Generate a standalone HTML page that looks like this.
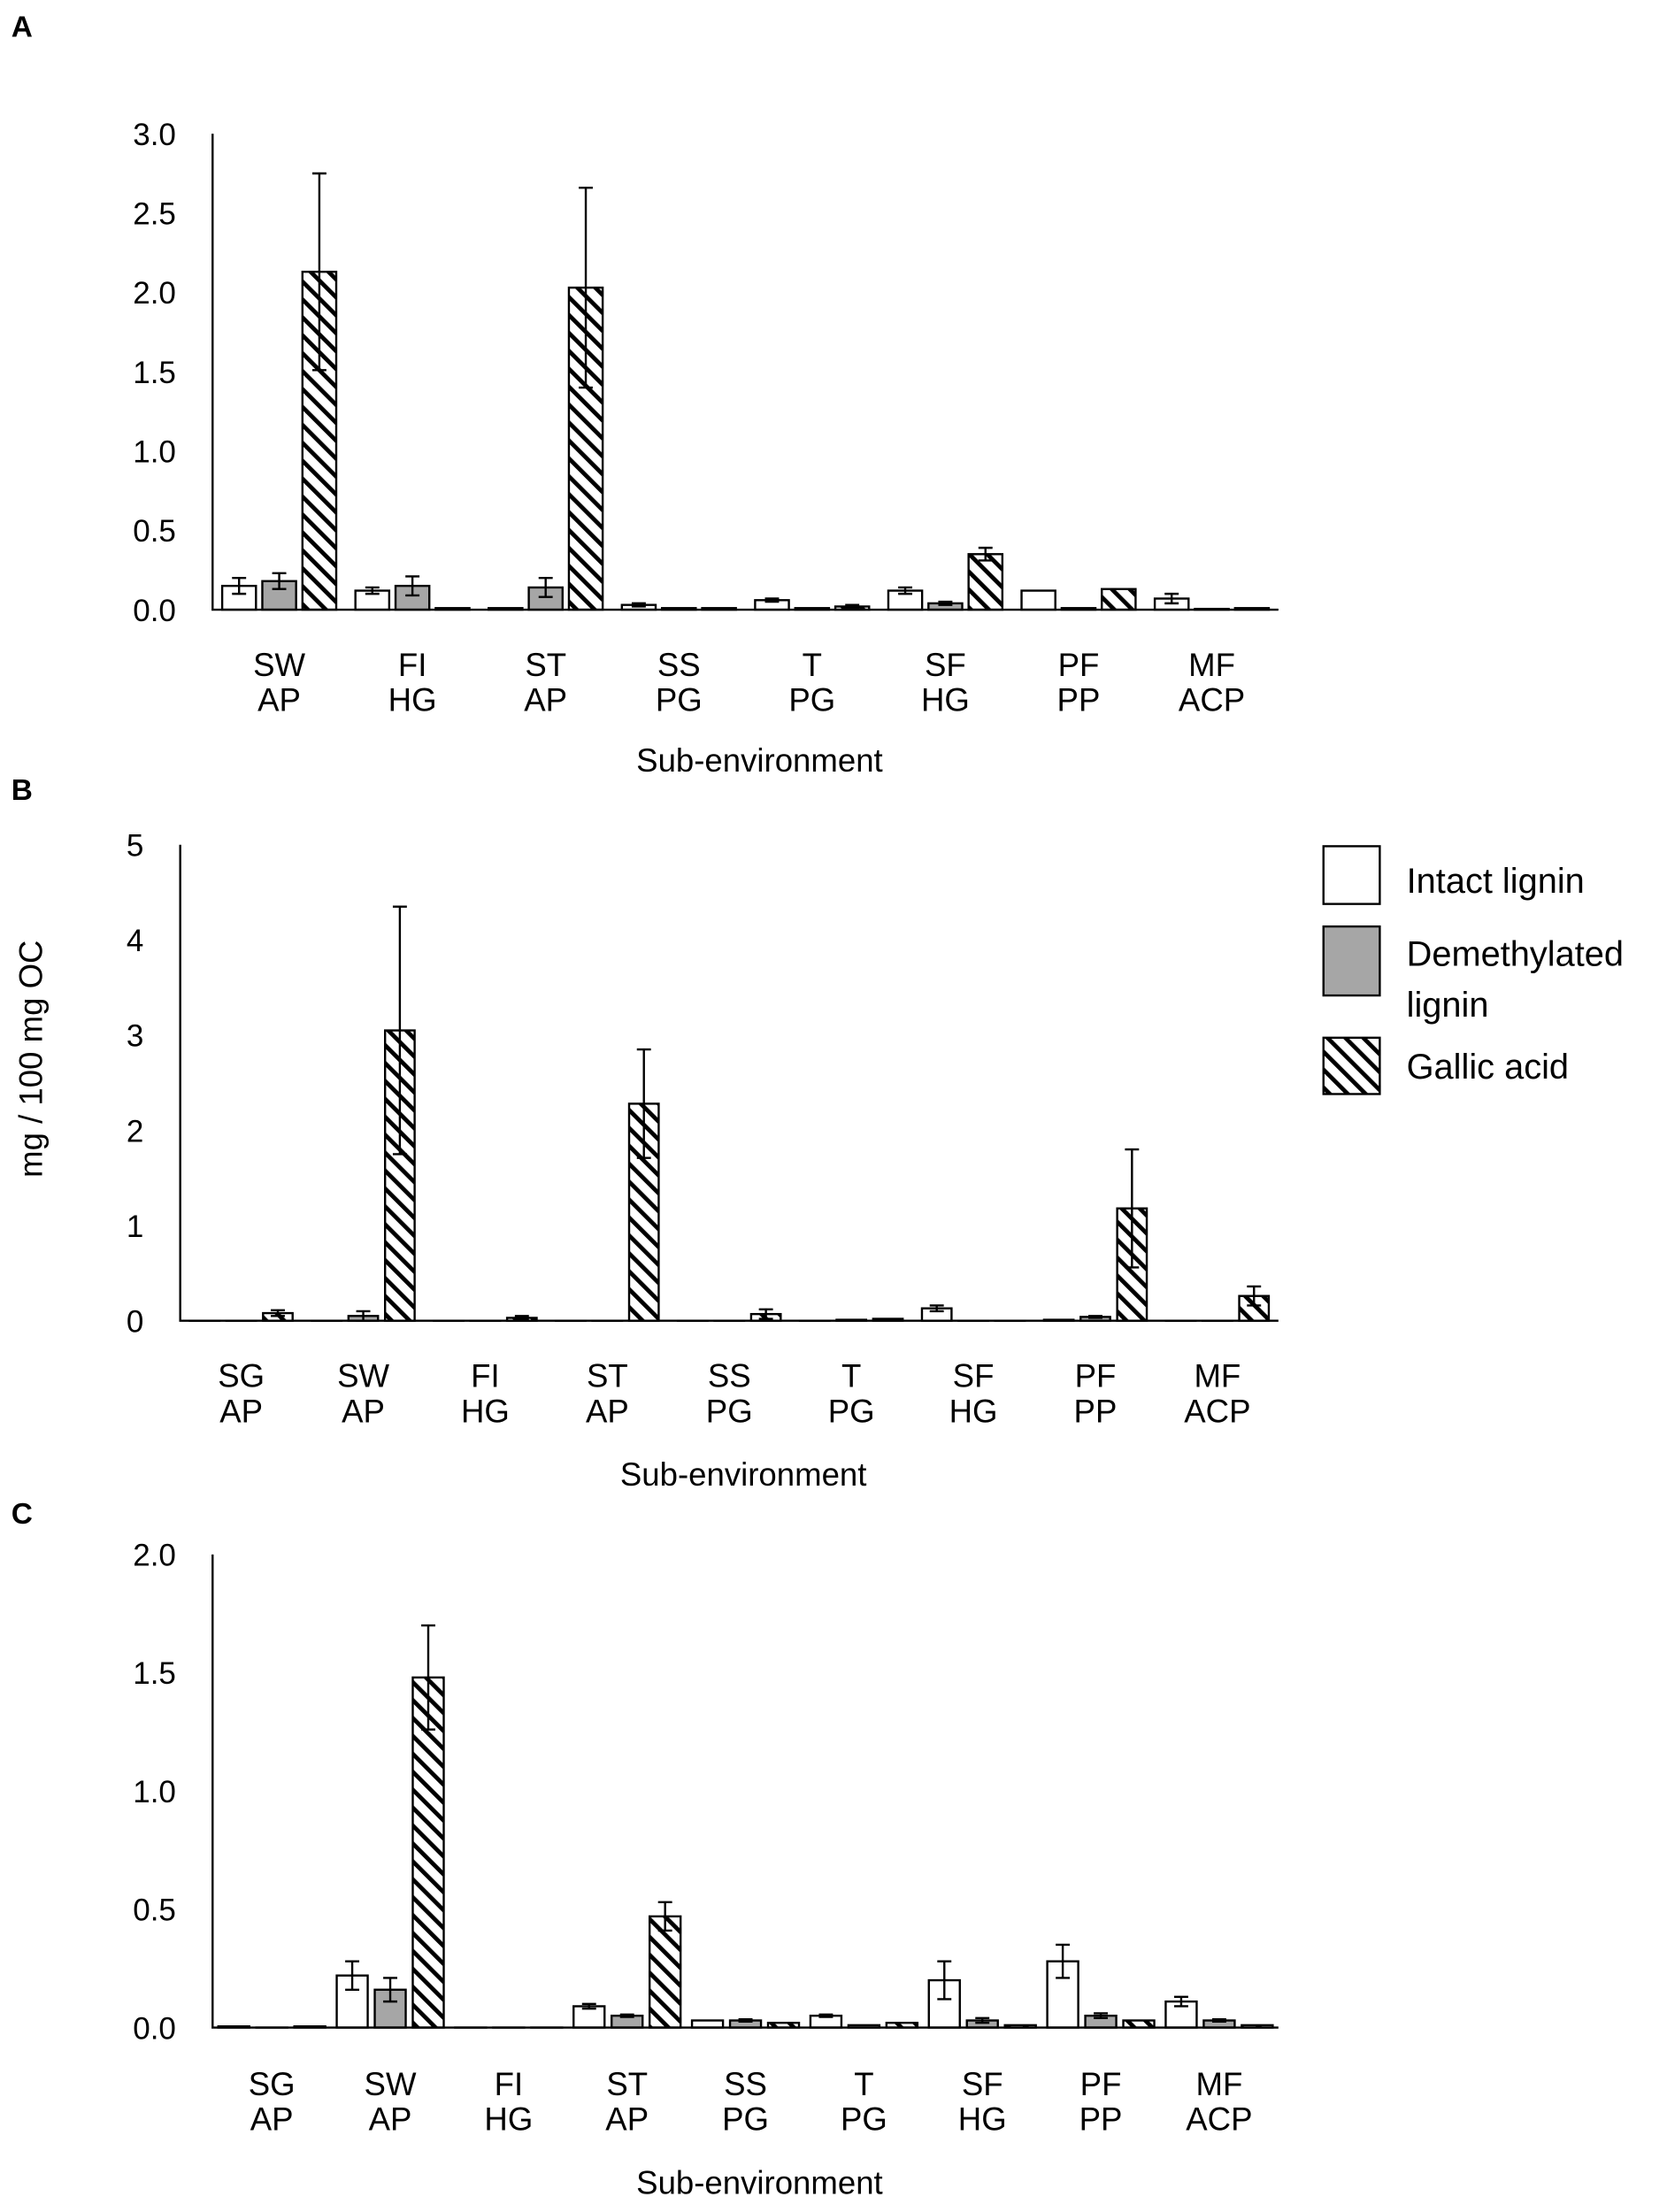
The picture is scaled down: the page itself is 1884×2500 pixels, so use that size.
<!DOCTYPE html>
<html><head><meta charset="utf-8"><style>
html,body{margin:0;padding:0;background:#fff;}
svg{display:block;font-family:"Liberation Sans",sans-serif;}
</style></head><body>
<svg id="fig" width="1884" height="2500" viewBox="0 0 1184 1571" preserveAspectRatio="none" xmlns="http://www.w3.org/2000/svg">
<defs>
<pattern id="hatch" patternUnits="userSpaceOnUse" width="9" height="9" patternTransform="rotate(-45)">
<rect width="9" height="9" fill="#fff"/><line x1="0" y1="0" x2="0" y2="9" stroke="#000" stroke-width="6"/>
</pattern>
</defs>
<text x="8" y="26" font-size="21" font-weight="bold">A</text>
<text x="8" y="568" font-size="21" font-weight="bold">B</text>
<text x="8" y="1082" font-size="21" font-weight="bold">C</text>
<text transform="translate(30,752) rotate(-90)" text-anchor="middle" font-size="23">mg / 100 mg OC</text>
<g>
<rect x="940" y="601" width="40" height="41" fill="#fff" stroke="#000" stroke-width="1.5"/>
<text x="999" y="634" font-size="25">Intact lignin</text>
<rect x="940" y="658" width="40" height="49" fill="#a6a6a6" stroke="#000" stroke-width="1.5"/>
<text x="999" y="686" font-size="25">Demethylated</text>
<text x="999" y="722" font-size="25">lignin</text>
<rect x="940" y="737" width="40" height="40" fill="url(#hatch)" stroke="#000" stroke-width="1.5"/>
<text x="999" y="766" font-size="25">Gallic acid</text>
</g>
</svg>
<script>
const NS='http://www.w3.org/2000/svg';
const svg=document.getElementById('fig');
// Panel A data
const catsA1=['SW','FI','ST','SS','T','SF','PF','MF'];
const catsA2=['AP','HG','AP','PG','PG','HG','PP','ACP'];
const intactA=[0.15,0.12,0.01,0.03,0.06,0.12,0.12,0.07];
const intactAErr=[0.05,0.02,0,0.01,0.01,0.02,0,0.03];
const demethA=[0.18,0.15,0.14,0.01,0.01,0.04,0.01,0.005];
const demethAErr=[0.05,0.06,0.06,0,0,0.01,0,0];
const gallicA=[2.13,0.01,2.03,0.01,0.02,0.35,0.13,0.01];
const gallicAErr=[0.62,0,0.63,0,0.01,0.04,0,0];
const ticksA=['0.0','0.5','1.0','1.5','2.0','2.5','3.0'];
// Panel B data
const catsB1=['SG','SW','FI','ST','SS','T','SF','PF','MF'];
const catsB2=['AP','AP','HG','AP','PG','PG','HG','PP','ACP'];
const intactB=[0,0,0,0,0,0,0.13,0.01,0];
const intactBErr=[0,0,0,0,0,0,0.03,0,0];
const demethB=[0,0.05,0,0,0,0.01,0,0.04,0];
const demethBErr=[0,0.05,0,0,0,0,0,0.01,0];
const gallicB=[0.08,3.05,0.03,2.28,0.07,0.02,0,1.18,0.26];
const gallicBErr=[0.03,1.3,0.02,0.57,0.05,0,0,0.62,0.1];
const ticksB=['0','1','2','3','4','5'];
// Panel C data
const catsC1=['SG','SW','FI','ST','SS','T','SF','PF','MF'];
const catsC2=['AP','AP','HG','AP','PG','PG','HG','PP','ACP'];
const intactC=[0.005,0.22,0,0.09,0.03,0.05,0.2,0.28,0.11];
const intactCErr=[0,0.06,0,0.01,0,0.005,0.08,0.07,0.02];
const demethC=[0,0.16,0,0.05,0.03,0.01,0.03,0.05,0.03];
const demethCErr=[0,0.05,0,0.005,0.005,0,0.01,0.01,0.005];
const gallicC=[0.005,1.48,0,0.47,0.02,0.02,0.01,0.03,0.01];
const gallicCErr=[0,0.22,0,0.06,0,0,0,0,0];
const ticksC=['0.0','0.5','1.0','1.5','2.0'];

function el(tag,attrs,parent){const e=document.createElementNS(NS,tag);for(const k in attrs)e.setAttribute(k,attrs[k]);(parent||svg).appendChild(e);return e;}

function panel(id,cfg){
  const g=el('g',{});
  
  
  const {x0,x1,y0,yTop,max,ticks,c1,c2,series,errs,bw,step,labY,titleY}=cfg;
  const y=v=>y0-(v/max)*(y0-yTop);
  const n=c1.length, gw=(x1-x0)/n;
  const xc=i=>x0+gw*(i+0.5);
  ticks.forEach(t=>{
    const tx=el('text',{x:x0-26,y:y(parseFloat(t))+8,'text-anchor':'end','font-size':22},g);
    tx.textContent=t;
    
    
  });
  const fills=['#fff','#a6a6a6','url(#hatch)'];
  const names=['intact','demethylated','gallic'];
  series.forEach((s,si)=>{
    s.forEach((v,i)=>{
      const cx=xc(i)+(si-1)*step;
      const r=el('rect',{x:cx-bw/2,y:y(v),width:bw,height:Math.max(0.01,y0-y(v)),fill:fills[si],stroke:'#000','stroke-width':1.5},g);
      
      
      const e=errs[si][i];
      if(e>0){
        const p=el('path',{d:`M${cx},${y(v+e)}V${y(Math.max(0,v-e))}M${cx-5},${y(v+e)}H${cx+5}M${cx-5},${y(Math.max(0,v-e))}H${cx+5}`,stroke:'#000','stroke-width':1.5,fill:'none'},g);
        
        
      }
    });
  });
  const ax=el('path',{d:`M${x0},${yTop}V${y0}H${x1}`,stroke:'#000','stroke-width':1.5,fill:'none'},g);
  
  
  c1.forEach((c,i)=>{
    const t1=el('text',{x:xc(i),y:labY,'text-anchor':'middle','font-size':23},g);t1.textContent=c;
    
    
    const t2=el('text',{x:xc(i),y:labY+25,'text-anchor':'middle','font-size':23},g);t2.textContent=c2[i];
    
    
  });
  const xt=el('text',{x:(x0+x1)/2+10,y:titleY,'text-anchor':'middle','font-size':23},g);
  xt.textContent='Sub-environment';
  
  
}
panel('a',{x0:151,x1:908,y0:433,yTop:95,max:3,ticks:ticksA,c1:catsA1,c2:catsA2,series:[intactA,demethA,gallicA],errs:[intactAErr,demethAErr,gallicAErr],bw:24,step:28.5,labY:480,titleY:548});
panel('b',{x0:128,x1:908,y0:938,yTop:600,max:5,ticks:ticksB,c1:catsB1,c2:catsB2,series:[intactB,demethB,gallicB],errs:[intactBErr,demethBErr,gallicBErr],bw:21,step:26,labY:985,titleY:1055});
panel('c',{x0:151,x1:908,y0:1440,yTop:1104,max:2,ticks:ticksC,c1:catsC1,c2:catsC2,series:[intactC,demethC,gallicC],errs:[intactCErr,demethCErr,gallicCErr],bw:22,step:27,labY:1488,titleY:1558});
</script>
</body></html>
